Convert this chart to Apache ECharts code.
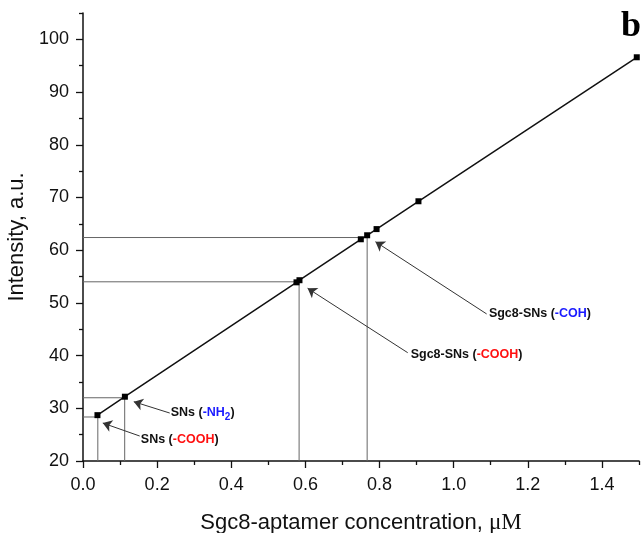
<!DOCTYPE html>
<html><head><meta charset="utf-8">
<script src="https://cdn.jsdelivr.net/npm/echarts@6/dist/echarts.min.js"></script>
<style>html,body{margin:0;padding:0;background:#fff}#c{width:642px;height:533px}</style>
</head><body><div id="c"></div>
<script>
// measured points (Sgc8-aptamer concentration, µM  vs  intensity, a.u.)
const concX     = [0.039, 0.113, 0.576, 0.584, 0.7495, 0.7666, 0.792, 0.905, 1.494];
const intensity = [28.7, 32.2, 53.9, 54.3, 62.07, 62.83, 64.0, 69.28, 96.6];
// drop lines (read-out values)
const dropX = [0.040, 0.1125, 0.583, 0.7666];
const dropY = [28.35, 32.0, 54.0, 62.4];
// ticks
const xTicks = [0, 0.2, 0.4, 0.6, 0.8, 1.0, 1.2, 1.4];
const xTickLabels = ['0.0', '0.2', '0.4', '0.6', '0.8', '1.0', '1.2', '1.4'];
const xMinor = [0.1, 0.3, 0.5, 0.7, 0.9, 1.1, 1.3, 1.5];
const yTicks = [20, 30, 40, 50, 60, 70, 80, 90, 100];
const yTickLabels = ['20', '30', '40', '50', '60', '70', '80', '90', '100'];
const yMinor = [25, 35, 45, 55, 65, 75, 85, 95, 105];
// annotations: label text parts [black prefix, coloured group, suffix]
const annPrefix = ['SNs (', 'SNs (', 'Sgc8-SNs (', 'Sgc8-SNs ('];
const annGroup  = ['-COOH', '-NH', '-COH', '-COOH'];
const annSub    = ['', '2', '', ''];
const annColor  = ['r', 'b', 'b', 'r'];
const annFrom   = [[0.153, 24.74], [0.234, 29.1], [1.089, 47.9], [0.876, 40.55]];
const annTo     = [[0.0534, 27.2], [0.137, 31.25], [0.789, 61.6], [0.606, 52.77]];
const annText   = [[0.156, 24.0], [0.2366, 29.1], [1.095, 47.95], [0.884, 40.2]];

const chart = echarts.init(document.getElementById('c'), null, {renderer: 'canvas'});
const SANS = 'Arial, "Liberation Sans", Helvetica, sans-serif';
const SERIF = '"Times New Roman", "Liberation Serif", serif';

const dropSeries = dropX.map((x, i) => ({
  type: 'line', xAxisIndex: 0, yAxisIndex: 0, silent: true, z: 1,
  symbol: 'none', animation: false,
  lineStyle: {color: '#666', width: 1},
  data: [[0, dropY[i]], [x, dropY[i]], [x, 20]]
}));

chart.setOption({
  animation: false,
  backgroundColor: '#fff',
  grid: {left: 83, right: 3, top: 13, bottom: 72, containLabel: false, outerBoundsMode: 'none'},
  xAxis: [{
    type: 'value', min: 0, max: 1.5, position: 'bottom',
    name: '{a|Sgc8-aptamer concentration, }{b|μM}',
    nameLocation: 'middle', nameGap: 50,
    nameTextStyle: {rich: {
      a: {fontFamily: SANS, fontSize: 22, color: '#111'},
      b: {fontFamily: SERIF, fontSize: 23, color: '#111'}
    }},
    axisLine: {show: true, onZero: false, lineStyle: {color: '#111', width: 1.5}},
    axisTick: {show: true, inside: false, length: 7, lineStyle: {color: '#111', width: 1.3}, customValues: xTicks},
    axisLabel: {customValues: xTicks, margin: 15, fontFamily: SANS, fontSize: 18, color: '#111',
      formatter: v => xTickLabels[Math.round(v * 5)]},
    splitLine: {show: false}
  }, {
    type: 'value', min: 0, max: 1.5, position: 'bottom',
    axisLine: {show: false},
    axisTick: {show: true, length: 4, lineStyle: {color: '#111', width: 1.3}, customValues: xMinor},
    axisLabel: {show: false},
    splitLine: {show: false}
  }],
  yAxis: [{
    type: 'value', min: 20, max: 105, position: 'left',
    name: 'Intensity, a.u.',
    nameLocation: 'middle', nameGap: 50,
    nameTextStyle: {fontFamily: SANS, fontSize: 22, color: '#111'},
    axisLine: {show: true, onZero: false, lineStyle: {color: '#111', width: 1.5}},
    axisTick: {show: true, length: 7, lineStyle: {color: '#111', width: 1.3}, customValues: yTicks},
    axisLabel: {customValues: yTicks, margin: 14, fontFamily: SANS, fontSize: 18, color: '#111',
      formatter: v => yTickLabels[Math.round((v - 20) / 10)]},
    splitLine: {show: false}
  }, {
    type: 'value', min: 20, max: 105, position: 'left',
    axisLine: {show: false},
    axisTick: {show: true, length: 4, lineStyle: {color: '#111', width: 1.3}, customValues: yMinor},
    axisLabel: {show: false},
    splitLine: {show: false}
  }],
  series: dropSeries.concat([{
    type: 'line', xAxisIndex: 0, yAxisIndex: 0, z: 3,
    data: concX.map((x, i) => [x, intensity[i]]),
    symbol: 'rect', symbolSize: 6, showAllSymbol: true,
    lineStyle: {color: '#111', width: 1.5},
    itemStyle: {color: '#000'},
    markLine: {
      silent: true, animation: false,
      symbol: ['none', 'arrow'], symbolSize: 9,
      lineStyle: {color: '#333', width: 1, type: 'solid'},
      itemStyle: {color: '#111'},
      label: {show: false},
      emphasis: {disabled: true},
      data: annFrom.map((f, i) => [{coord: f}, {coord: annTo[i]}])
    }
  }])
});

const graphics = annText.map((p, i) => {
  const px = chart.convertToPixel({xAxisIndex: 0, yAxisIndex: 0}, p);
  let t = '{k|' + annPrefix[i] + '}{' + annColor[i] + '|' + annGroup[i] + '}';
  if (annSub[i]) t += '{s|' + annSub[i] + '}';
  t += '{k|)}';
  return {
    type: 'text', x: px[0], y: px[1], z: 10,
    style: {
      text: t, align: 'left', verticalAlign: 'middle',
      rich: {
        k: {fontFamily: SANS, fontSize: 12.5, fontWeight: 'bold', fill: '#111'},
        r: {fontFamily: SANS, fontSize: 12.5, fontWeight: 'bold', fill: '#ff1010'},
        b: {fontFamily: SANS, fontSize: 12.5, fontWeight: 'bold', fill: '#1a1aff'},
        s: {fontFamily: SANS, fontSize: 10, fontWeight: 'bold', fill: '#1a1aff', padding: [9, 0, 0, 0]}
      }
    }
  };
});
graphics.push({
  type: 'text', right: 1, top: 9, z: 10,
  style: {text: 'b', fontFamily: SERIF, fontSize: 36, fontWeight: 'bold', fill: '#000'}
});
chart.setOption({graphic: graphics});
</script>
</body></html>
